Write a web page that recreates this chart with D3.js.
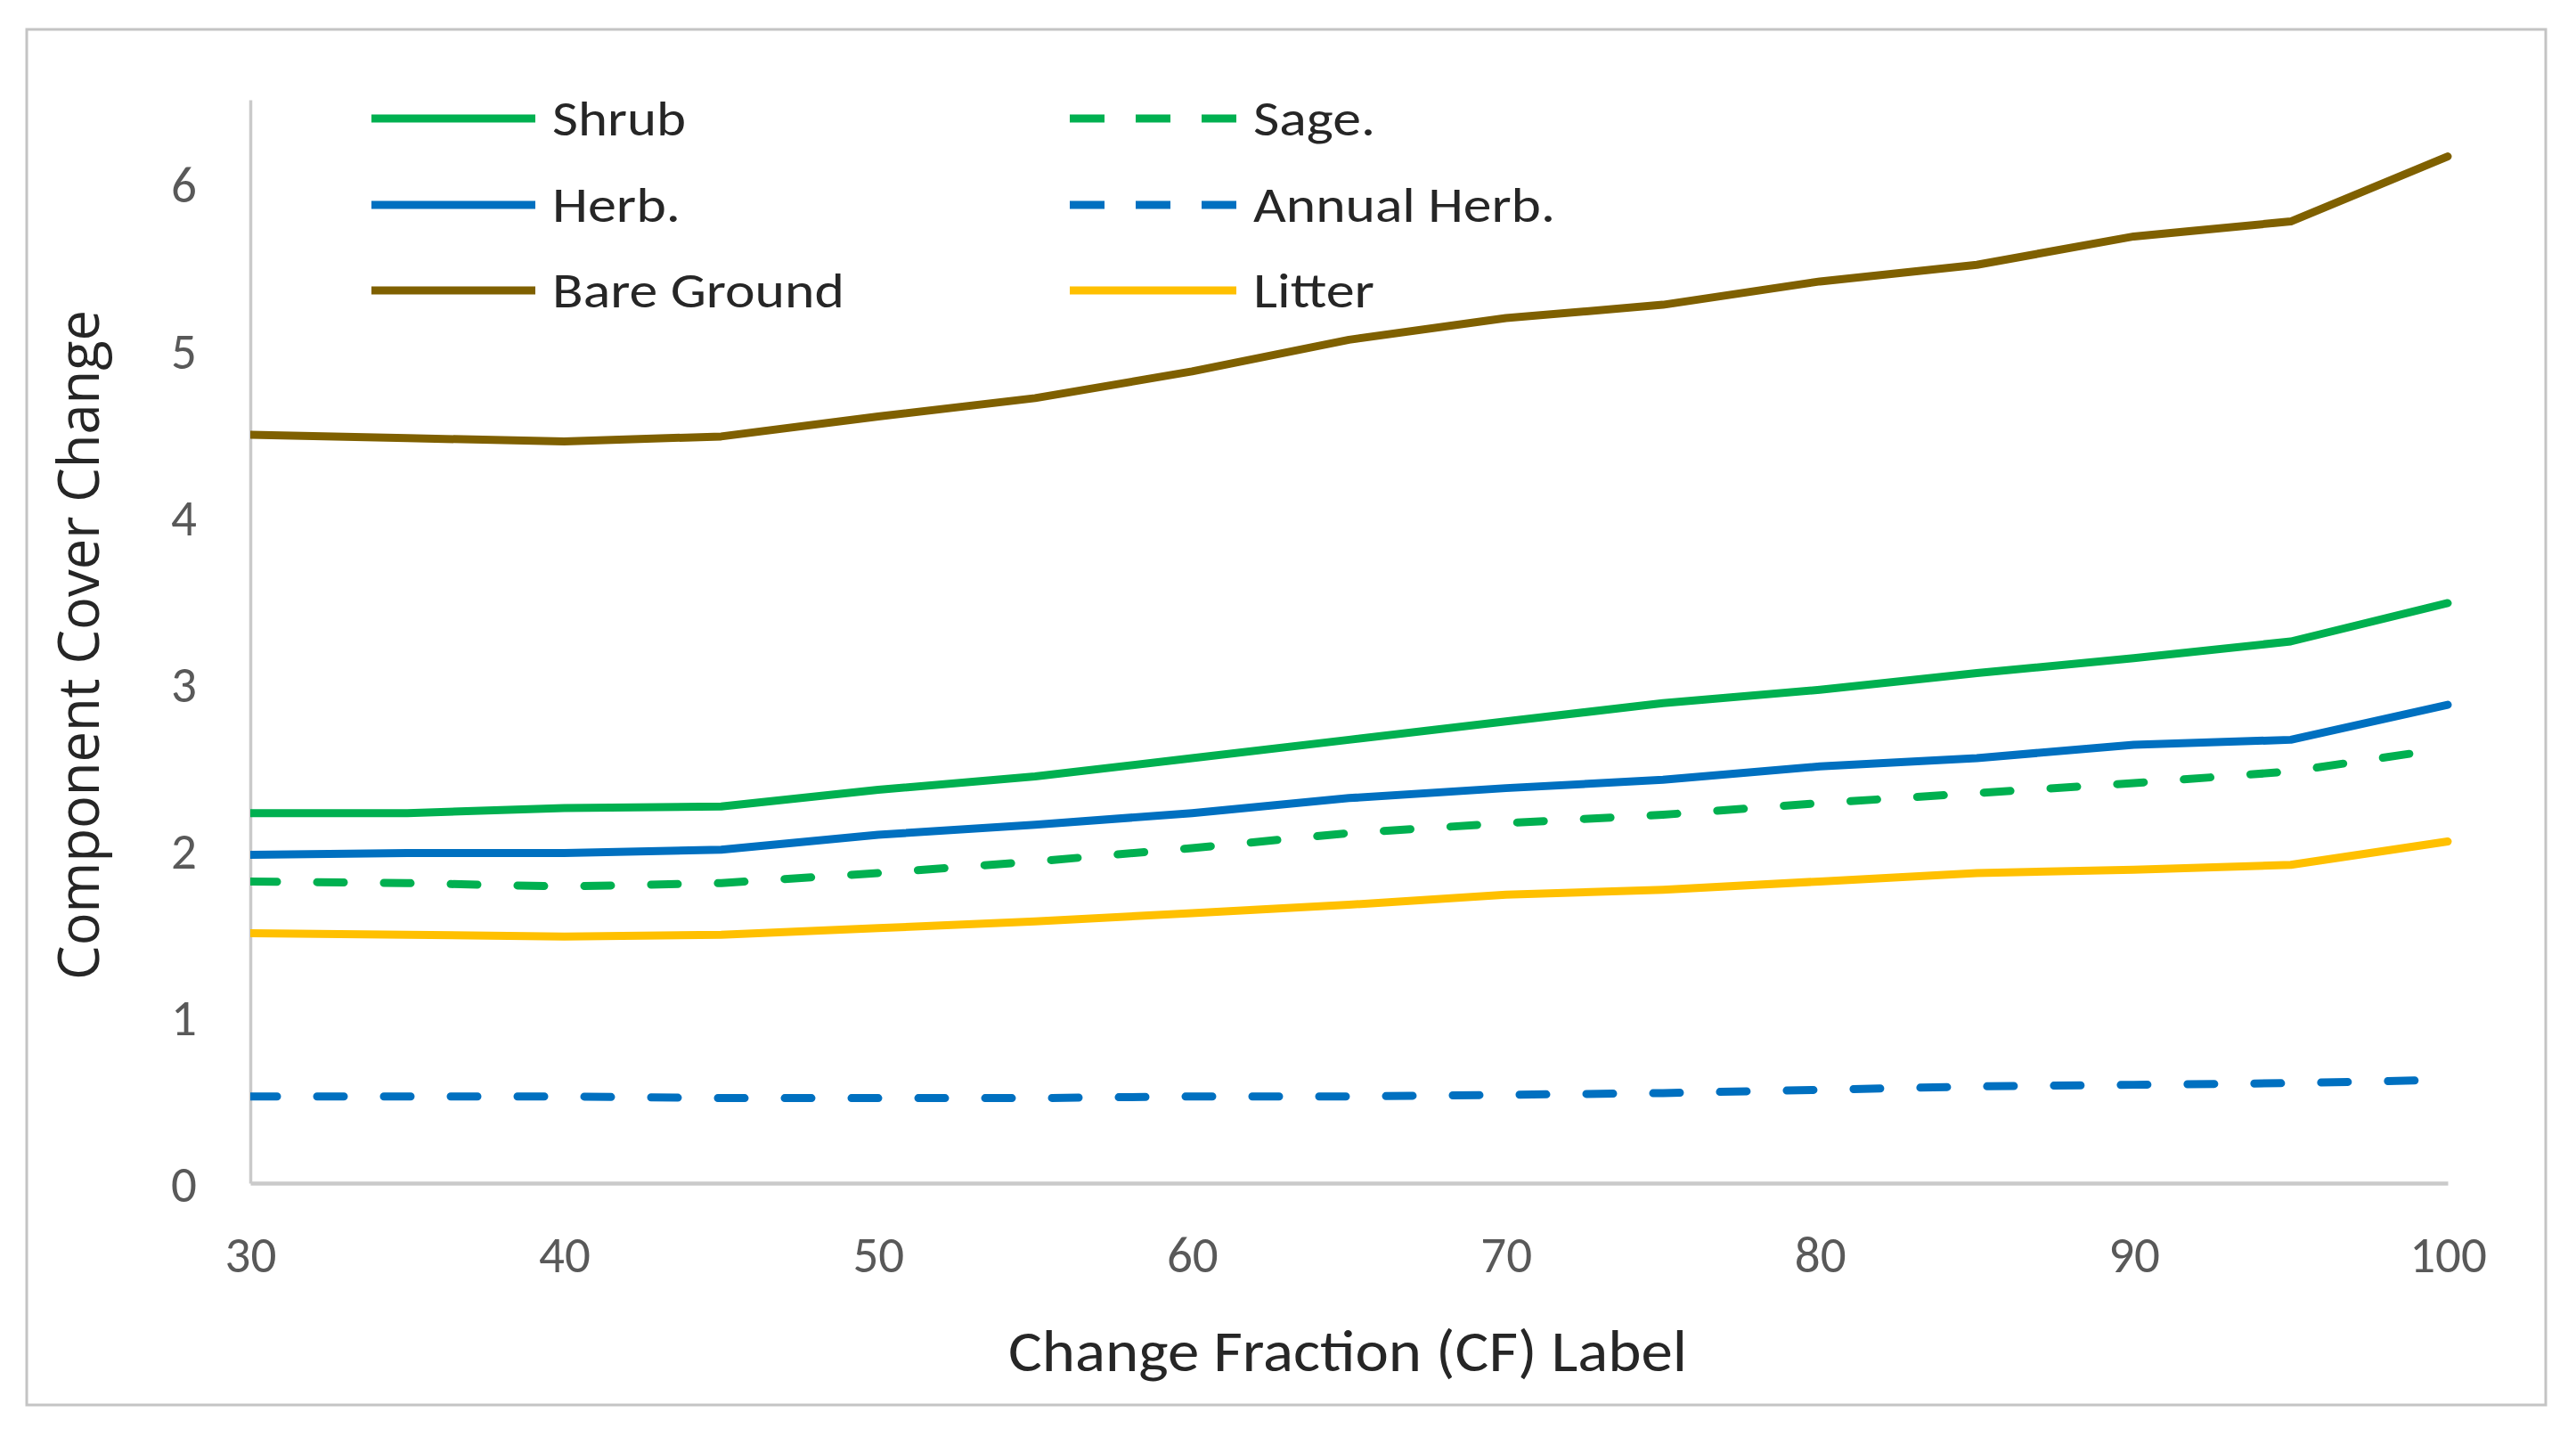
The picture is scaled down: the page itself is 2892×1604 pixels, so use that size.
<!DOCTYPE html>
<html>
<head>
<meta charset="utf-8">
<script src="https://cdn.jsdelivr.net/npm/d3@7"></script>
<style>
  html, body { margin: 0; padding: 0; background: #ffffff; }
  svg { display: block; }
</style>
</head>
<body>
<svg id="chart" width="2892" height="1604"></svg>
<script>
// ---------------- DATA ----------------
const cfLabels = [30, 35, 40, 45, 50, 55, 60, 65, 70, 75, 80, 85, 90, 95, 100];
const xTickValues = [30, 40, 50, 60, 70, 80, 90, 100];
const yTickValues = [0, 1, 2, 3, 4, 5, 6];

const shrub      = [2.22, 2.22, 2.25, 2.26, 2.36, 2.44, 2.55, 2.66, 2.77, 2.88, 2.96, 3.06, 3.15, 3.25, 3.48];
const sage       = [1.81, 1.80, 1.78, 1.80, 1.86, 1.93, 2.01, 2.10, 2.16, 2.21, 2.28, 2.34, 2.40, 2.47, 2.61];
const herb       = [1.97, 1.98, 1.98, 2.00, 2.09, 2.15, 2.22, 2.31, 2.37, 2.42, 2.50, 2.55, 2.63, 2.66, 2.87];
const annualHerb = [0.52, 0.52, 0.52, 0.51, 0.51, 0.51, 0.52, 0.52, 0.53, 0.54, 0.56, 0.58, 0.59, 0.60, 0.62];
const bareGround = [4.49, 4.47, 4.45, 4.48, 4.60, 4.71, 4.87, 5.06, 5.19, 5.27, 5.41, 5.51, 5.68, 5.77, 6.16];
const litter     = [1.50, 1.49, 1.48, 1.49, 1.53, 1.57, 1.62, 1.67, 1.73, 1.76, 1.81, 1.86, 1.88, 1.91, 2.05];

const seriesNames = ["Shrub", "Sage.", "Herb.", "Annual Herb.", "Bare Ground", "Litter"];
const seriesValues = [shrub, sage, herb, annualHerb, bareGround, litter];

const xTitle = "Change Fraction (CF) Label";
const yTitle = "Component Cover Change";

// ---------------- STYLE / LAYOUT ----------------
const style = {
  "Shrub":        { color: "#00B050", dashed: false, col: 0, row: 0, textLen: 150 },
  "Sage.":        { color: "#00B050", dashed: true,  col: 1, row: 0, textLen: 137 },
  "Herb.":        { color: "#0070C0", dashed: false, col: 0, row: 1, textLen: 144 },
  "Annual Herb.": { color: "#0070C0", dashed: true,  col: 1, row: 1, textLen: 339 },
  "Bare Ground":  { color: "#7F6000", dashed: false, col: 0, row: 2, textLen: 328 },
  "Litter":       { color: "#FFC000", dashed: false, col: 1, row: 2, textLen: 136 }
};
const font = "Carlito, Calibri, Lato, sans-serif";
const plot = { left: 281, right: 2748, top: 112, bottom: 1328 };
const strokeW = 9;

const svg = d3.select("#chart");

// outer border
svg.append("rect")
  .attr("x", 30).attr("y", 33).attr("width", 2828).attr("height", 1544)
  .attr("fill", "#ffffff").attr("stroke", "#C4C4C4").attr("stroke-width", 3);

const x = d3.scaleLinear().domain([30, 100]).range([plot.left, plot.right]);
const y = d3.scaleLinear().domain([0, 6.5]).range([plot.bottom, plot.top]);

// clip
svg.append("defs").append("clipPath").attr("id", "plotclip")
  .append("rect")
  .attr("x", plot.left).attr("y", 0)
  .attr("width", plot.right - plot.left + 20).attr("height", plot.bottom);

// axes
const yAxis = d3.axisLeft(y).tickValues(yTickValues).tickSize(0).tickPadding(60).tickFormat(d3.format("d"));
const gy = svg.append("g").attr("transform", `translate(${plot.left},0)`).call(yAxis);
gy.select(".domain").attr("stroke", "#CACACA").attr("stroke-width", 3.5);
gy.selectAll(".tick text")
  .attr("font-family", font).attr("font-size", 57).attr("fill", "#595959").attr("dy", "0.36em");

const xAxis = d3.axisBottom(x).tickValues(xTickValues).tickSize(0).tickPadding(60).tickFormat(d3.format("d"));
const gx = svg.append("g").attr("transform", `translate(0,${plot.bottom})`).call(xAxis);
gx.select(".domain").attr("stroke", "#CACACA").attr("stroke-width", 4.5);
gx.selectAll(".tick text")
  .attr("font-family", font).attr("font-size", 57).attr("fill", "#595959");

// lines
const line = d3.line()
  .x((d, i) => x(cfLabels[i]))
  .y(d => y(d));

const gLines = svg.append("g").attr("clip-path", "url(#plotclip)");
// draw order: back to front roughly as Excel series order
seriesNames.forEach((name, k) => {
  const s = style[name];
  gLines.append("path")
    .datum(seriesValues[k])
    .attr("d", line)
    .attr("fill", "none")
    .attr("stroke", s.color)
    .attr("stroke-width", strokeW)
    .attr("stroke-linejoin", "round")
    .attr("stroke-linecap", "round")
    .attr("stroke-dasharray", s.dashed ? "30 45" : null);
});

// legend
const legendCols = [{ x1: 417, x2: 601, tx: 620 }, { x1: 1201, x2: 1388, tx: 1407 }];
const legendRows = [133, 230, 326];
const lg = svg.append("g");
seriesNames.forEach(name => {
  const s = style[name];
  const c = legendCols[s.col];
  const ry = legendRows[s.row];
  lg.append("line")
    .attr("x1", c.x1).attr("x2", c.x2).attr("y1", ry).attr("y2", ry)
    .attr("stroke", s.color).attr("stroke-width", strokeW)
    .attr("stroke-linecap", "butt")
    .attr("stroke-dasharray", s.dashed ? "39 35" : null);
  lg.append("text")
    .attr("x", c.tx).attr("y", ry + 19)
    .attr("font-family", font).attr("font-size", 55).attr("fill", "#262626")
    .attr("textLength", s.textLen).attr("lengthAdjust", "spacingAndGlyphs")
    .text(name);
});

// axis titles
svg.append("text")
  .attr("x", 1513).attr("y", 1539)
  .attr("text-anchor", "middle")
  .attr("font-family", font).attr("font-size", 66).attr("fill", "#262626")
  .attr("textLength", 762).attr("lengthAdjust", "spacingAndGlyphs")
  .text(xTitle);

svg.append("text")
  .attr("transform", "translate(111,724) rotate(-90)")
  .attr("text-anchor", "middle")
  .attr("font-family", "'Open Sans', sans-serif").attr("font-size", 64).attr("fill", "#262626")
  .attr("textLength", 752).attr("lengthAdjust", "spacingAndGlyphs")
  .text(yTitle);
</script>
</body>
</html>
